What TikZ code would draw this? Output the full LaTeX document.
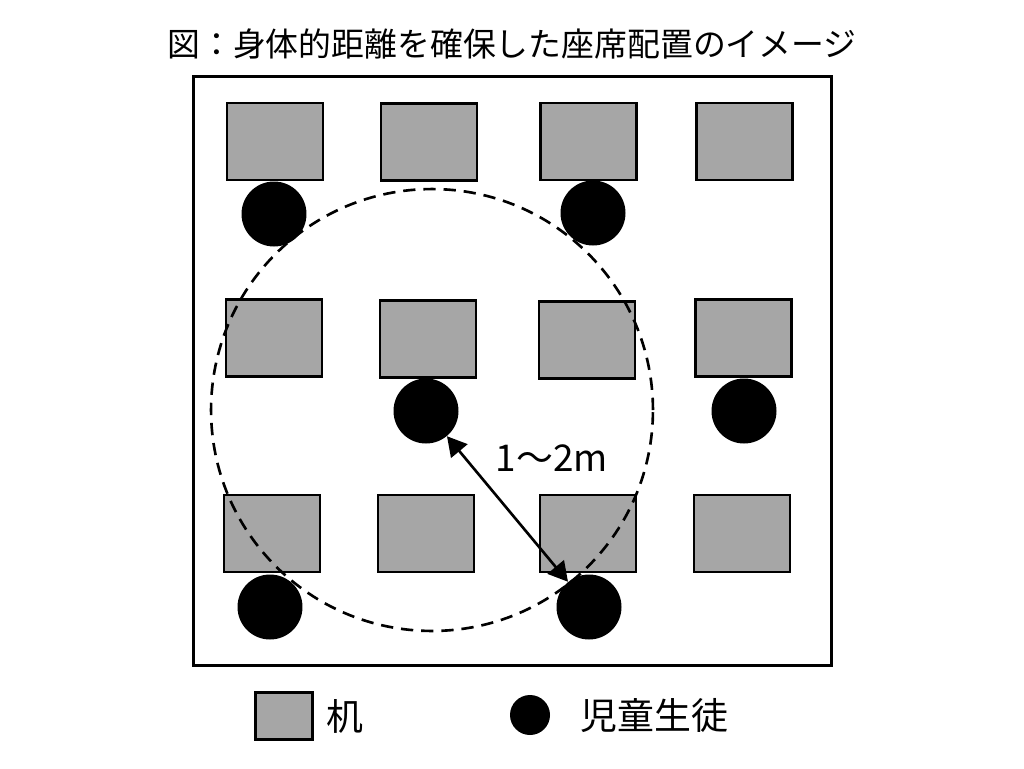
\documentclass[tikz,border=0pt]{standalone}
\usepackage{fontspec}
\setmainfont{Noto Sans CJK JP}
\usetikzlibrary{arrows.meta}

\tikzset{
  desk/.style={draw,line width=1.2pt,fill=deskgray,minimum width=1.92cm,minimum height=1.54cm,inner sep=0pt},
  pupil/.style={circle,fill=black,minimum size=1.3cm,inner sep=0pt},
}
\definecolor{deskgray}{HTML}{A6A6A6}

\begin{document}
\begin{tikzpicture}[x=0.02cm,y=-0.02cm]
    \useasboundingbox (0,0) rectangle (1024,768);

    % --------------------------------------------------------- %
    % ------------- title
    % --------------------------------------------------------- %
    \node[font=\fontsize{18.7pt}{22pt}\selectfont] (titre) at (512,44) {図：身体的距離を確保した座席配置のイメージ};

    % --------------------------------------------------------- %
    % ------------- classroom
    % --------------------------------------------------------- %
    \node[draw,line width=1.7pt,minimum width=12.78cm,minimum height=11.8cm,inner sep=0pt] (salle) at (512.5,371) {};

    % ------------ desks
    \node[desk] (d11) at (275,141.5) {};
    \node[desk] (d12) at (429,142) {};
    \node[desk] (d13) at (588.5,141.5) {};
    \node[desk] (d14) at (744.5,141.5) {};

    \node[desk] (d21) at (274,338) {};
    \node[desk] (d22) at (428,339) {};
    \node[desk] (d23) at (587,340) {};
    \node[desk] (d24) at (743.5,338) {};

    \node[desk] (d31) at (272,533.5) {};
    \node[desk] (d32) at (426,533.5) {};
    \node[desk] (d33) at (588,533.5) {};
    \node[desk] (d34) at (742,533.5) {};

    % ------------ pupils
    \node[pupil] (s11) at (274,214) {};
    \node[pupil] (s13) at (593,213) {};
    \node[pupil] (s22) at (426,411) {};
    \node[pupil] (s24) at (744,411) {};
    \node[pupil] (s31) at (270,607) {};
    \node[pupil] (s33) at (589,607) {};

    % ------------ distance
    \node[circle,draw,line width=1.5pt,dash pattern=on 7pt off 4.5pt,minimum size=8.84cm,inner sep=0pt] (zone) at (432,410) {};
    \draw[{Triangle[length=11pt,width=12pt]}-{Triangle[length=11pt,width=12pt]},line width=1.5pt] (s22) -- (s33);
    \node[font=\fontsize{21pt}{24pt}\selectfont] (dist) at (552,458) {1～2m};

    % --------------------------------------------------------- %
    % ------------- legend
    % --------------------------------------------------------- %
    \node[desk,minimum width=1.14cm,minimum height=0.94cm] (cledesk) at (284,716) {};
    \node[font=\fontsize{21pt}{24pt}\selectfont] (txtdesk) at (345,716) {机};
    \node[pupil,minimum size=0.8cm] (clepupil) at (530,715) {};
    \node[font=\fontsize{21pt}{24pt}\selectfont,anchor=west,inner sep=0pt] (txtpupil) at (580,716) {児童生徒};

  \end{tikzpicture}
\end{document}
